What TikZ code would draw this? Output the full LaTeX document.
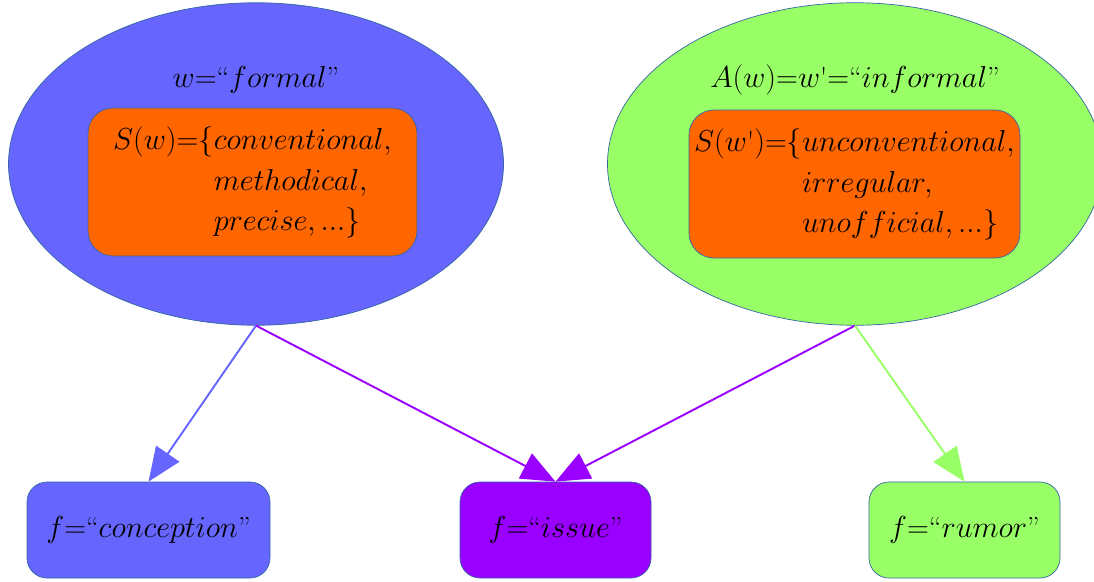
\documentclass[tikz,border=0pt]{standalone}
\usetikzlibrary{shapes.geometric,arrows.meta}
\definecolor{wordblue}{RGB}{102,102,255}
\definecolor{wordgreen}{RGB}{153,255,102}
\definecolor{synorange}{RGB}{255,102,0}
\definecolor{sharedpurple}{RGB}{153,0,255}
\definecolor{edgeblue}{RGB}{52,101,164}
\newcommand{\diagfont}{\fontsize{16.5}{23}\selectfont}

\begin{document}
\begin{tikzpicture}[
  wordcloud/.style={ellipse, draw=edgeblue, line width=0.4pt, inner sep=0pt, minimum width=9.9cm, minimum height=6.45cm},
  synbox/.style={rectangle, rounded corners=0.5cm, draw=edgeblue, line width=0.4pt, fill=synorange, minimum height=2.96cm, inner sep=0pt, font=\diagfont},
  leafbox/.style={rectangle, rounded corners=0.4cm, draw=edgeblue, line width=0.4pt, minimum height=1.92cm, inner sep=0pt, font=\diagfont},
  toleaf/.style={line width=1.1pt, -{Triangle[length=0.68cm,width=0.56cm]}}
]
\clip (0,0) rectangle (21.88,11.62);

% Word w and its synonyms
\node[wordcloud, fill=wordblue] (formal) at (5.12,8.34) {};
\node[font=\diagfont] (formaltitle) at (5.12,10.02) {$w{=}$``$formal$''};
\node[synbox, minimum width=6.58cm] (synformal) at (5.05,7.98)
  {$\begin{array}{@{}r@{}l@{}} S(w){=}\{ & conventional,\\ & methodical,\\ & precise,...\} \end{array}$};

% Antonym w' and its synonyms
\node[wordcloud, fill=wordgreen] (informal) at (17.10,8.34) {};
\node[font=\diagfont] (informaltitle) at (17.10,10.02) {$A(w){=}w$\textquotesingle${=}$``$informal$''};
\node[synbox, minimum width=6.62cm] (syninformal) at (17.09,7.94)
  {$\begin{array}{@{}r@{}l@{}} S(w\mbox{\textquotesingle}){=}\{ & unconventional,\\ & irregular,\\ & unofficial,...\} \end{array}$};

% Senses f
\node[leafbox, fill=wordblue, minimum width=4.86cm] (conception) at (2.97,1.02) {$f{=}$``$conception$''};
\node[leafbox, fill=sharedpurple, minimum width=3.82cm] (issue) at (11.11,1.02) {$f{=}$``$issue$''};
\node[leafbox, fill=wordgreen, minimum width=3.82cm] (rumor) at (19.29,1.02) {$f{=}$``$rumor$''};

% Links
\draw[toleaf, wordblue] (formal.south) -- (conception.north);
\draw[toleaf, sharedpurple] (formal.south) -- (issue.north);
\draw[toleaf, sharedpurple] (informal.south) -- (issue.north);
\draw[toleaf, wordgreen] (informal.south) -- (rumor.north);
\end{tikzpicture}
\end{document}
